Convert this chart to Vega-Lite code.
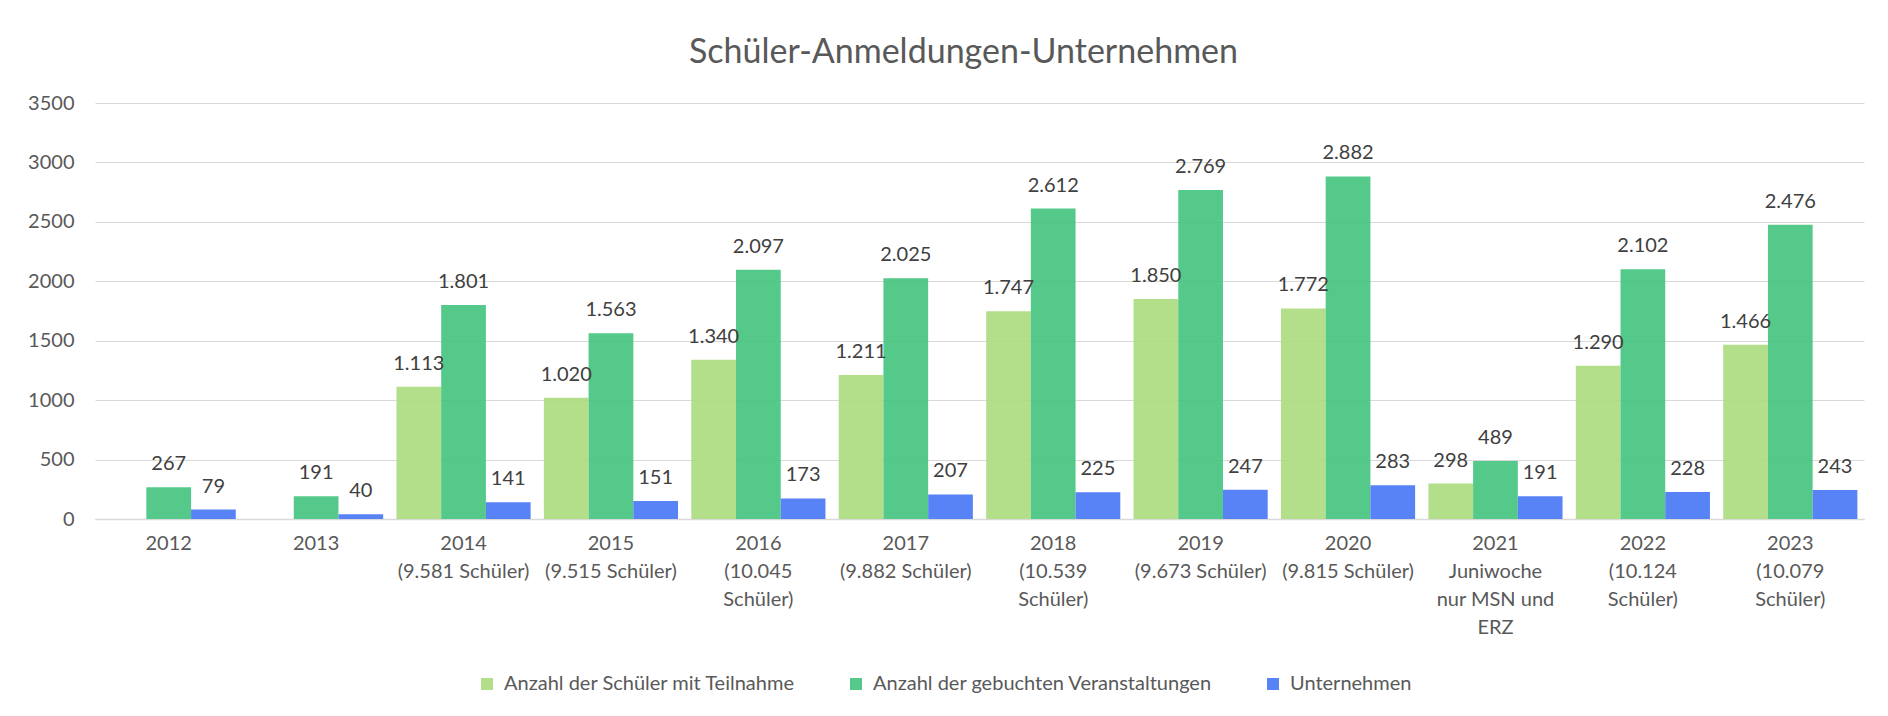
{
  "$schema": "https://vega.github.io/schema/vega-lite/v6.json",
  "width": 1769,
  "height": 416,
  "autosize": {"type": "none"},
  "padding": {"left": 95, "top": 103, "right": 24, "bottom": 197},
  "background": "white",
  "title": {
    "text": "Schüler-Anmeldungen-Unternehmen",
    "font": "Lato",
    "fontSize": 34,
    "fontWeight": "normal",
    "color": "#595959",
    "anchor": "middle",
    "frame": "group",
    "offset": 23,
    "dx": -16
  },
  "config": {
    "locale": {"number": {"decimal": ",", "thousands": ".", "grouping": [3], "currency": ["", " €"]}},
    "view": {"stroke": null},
    "font": "Lato"
  },
  "data": {
    "values": [
      {"jahr": "2012", "serie": "Anzahl der gebuchten Veranstaltungen", "wert": 267},
      {"jahr": "2012", "serie": "Unternehmen", "wert": 79},
      {"jahr": "2013", "serie": "Anzahl der gebuchten Veranstaltungen", "wert": 191},
      {"jahr": "2013", "serie": "Unternehmen", "wert": 40},
      {"jahr": "2014|(9.581 Schüler)", "serie": "Anzahl der Schüler mit Teilnahme", "wert": 1113},
      {"jahr": "2014|(9.581 Schüler)", "serie": "Anzahl der gebuchten Veranstaltungen", "wert": 1801},
      {"jahr": "2014|(9.581 Schüler)", "serie": "Unternehmen", "wert": 141},
      {"jahr": "2015|(9.515 Schüler)", "serie": "Anzahl der Schüler mit Teilnahme", "wert": 1020},
      {"jahr": "2015|(9.515 Schüler)", "serie": "Anzahl der gebuchten Veranstaltungen", "wert": 1563},
      {"jahr": "2015|(9.515 Schüler)", "serie": "Unternehmen", "wert": 151},
      {"jahr": "2016|(10.045|Schüler)", "serie": "Anzahl der Schüler mit Teilnahme", "wert": 1340},
      {"jahr": "2016|(10.045|Schüler)", "serie": "Anzahl der gebuchten Veranstaltungen", "wert": 2097},
      {"jahr": "2016|(10.045|Schüler)", "serie": "Unternehmen", "wert": 173},
      {"jahr": "2017|(9.882 Schüler)", "serie": "Anzahl der Schüler mit Teilnahme", "wert": 1211},
      {"jahr": "2017|(9.882 Schüler)", "serie": "Anzahl der gebuchten Veranstaltungen", "wert": 2025},
      {"jahr": "2017|(9.882 Schüler)", "serie": "Unternehmen", "wert": 207},
      {"jahr": "2018|(10.539|Schüler)", "serie": "Anzahl der Schüler mit Teilnahme", "wert": 1747},
      {"jahr": "2018|(10.539|Schüler)", "serie": "Anzahl der gebuchten Veranstaltungen", "wert": 2612},
      {"jahr": "2018|(10.539|Schüler)", "serie": "Unternehmen", "wert": 225},
      {"jahr": "2019|(9.673 Schüler)", "serie": "Anzahl der Schüler mit Teilnahme", "wert": 1850},
      {"jahr": "2019|(9.673 Schüler)", "serie": "Anzahl der gebuchten Veranstaltungen", "wert": 2769},
      {"jahr": "2019|(9.673 Schüler)", "serie": "Unternehmen", "wert": 247},
      {"jahr": "2020|(9.815 Schüler)", "serie": "Anzahl der Schüler mit Teilnahme", "wert": 1772},
      {"jahr": "2020|(9.815 Schüler)", "serie": "Anzahl der gebuchten Veranstaltungen", "wert": 2882},
      {"jahr": "2020|(9.815 Schüler)", "serie": "Unternehmen", "wert": 283},
      {"jahr": "2021|Juniwoche|nur MSN und|ERZ", "serie": "Anzahl der Schüler mit Teilnahme", "wert": 298},
      {"jahr": "2021|Juniwoche|nur MSN und|ERZ", "serie": "Anzahl der gebuchten Veranstaltungen", "wert": 489},
      {"jahr": "2021|Juniwoche|nur MSN und|ERZ", "serie": "Unternehmen", "wert": 191},
      {"jahr": "2022|(10.124|Schüler)", "serie": "Anzahl der Schüler mit Teilnahme", "wert": 1290},
      {"jahr": "2022|(10.124|Schüler)", "serie": "Anzahl der gebuchten Veranstaltungen", "wert": 2102},
      {"jahr": "2022|(10.124|Schüler)", "serie": "Unternehmen", "wert": 228},
      {"jahr": "2023|(10.079|Schüler)", "serie": "Anzahl der Schüler mit Teilnahme", "wert": 1466},
      {"jahr": "2023|(10.079|Schüler)", "serie": "Anzahl der gebuchten Veranstaltungen", "wert": 2476},
      {"jahr": "2023|(10.079|Schüler)", "serie": "Unternehmen", "wert": 243}
    ]
  },
  "encoding": {
    "x": {
      "field": "jahr",
      "type": "nominal",
      "sort": null,
      "scale": {"paddingInner": 0.09, "paddingOuter": 0.045},
      "axis": {
        "title": null,
        "labelExpr": "split(datum.label, '|')",
        "labelAngle": 0,
        "labelFont": "Lato",
        "labelFontSize": 20,
        "labelColor": "#595959",
        "labelLineHeight": 28,
        "labelBaseline": "top",
        "labelPadding": 14,
        "labelLimit": 300,
        "ticks": false,
        "domainColor": "#D9D9D9",
        "domainWidth": 1.5,
        "grid": false
      }
    },
    "xOffset": {
      "field": "serie",
      "type": "nominal",
      "sort": ["Anzahl der Schüler mit Teilnahme", "Anzahl der gebuchten Veranstaltungen", "Unternehmen"]
    },
    "y": {
      "field": "wert",
      "type": "quantitative",
      "scale": {"domain": [0, 3500], "nice": false},
      "axis": {
        "title": null,
        "values": [0, 500, 1000, 1500, 2000, 2500, 3000, 3500],
        "format": "d",
        "labelFont": "Lato",
        "labelFontSize": 20,
        "labelColor": "#595959",
        "labelPadding": 21,
        "ticks": false,
        "domain": false,
        "gridColor": "#D9D9D9",
        "gridWidth": 1.2
      }
    }
  },
  "layer": [
    {
      "mark": {"type": "bar", "opacity": 0.92},
      "encoding": {
        "color": {
          "field": "serie",
          "type": "nominal",
          "sort": ["Anzahl der Schüler mit Teilnahme", "Anzahl der gebuchten Veranstaltungen", "Unternehmen"],
          "scale": {
            "domain": ["Anzahl der Schüler mit Teilnahme", "Anzahl der gebuchten Veranstaltungen", "Unternehmen"],
            "range": ["#ADDC81", "#45C480", "#4A78F6"]
          },
          "legend": {
            "title": null,
            "orient": "none",
            "direction": "horizontal",
            "legendX": 382,
            "legendY": 571,
            "symbolType": "square",
            "symbolSize": 144,
            "symbolStrokeWidth": 0,
            "symbolOpacity": 0.92,
            "labelFont": "Lato",
            "labelFontSize": 20,
            "labelColor": "#595959",
            "labelOffset": 7,
            "labelLimit": 500,
            "columnPadding": 50
          }
        }
      }
    },
    {
      "mark": {
        "type": "text",
        "baseline": "alphabetic",
        "align": "center",
        "dy": -17,
        "font": "Lato",
        "fontSize": 20,
        "color": "#404040"
      },
      "encoding": {
        "text": {"field": "wert", "type": "quantitative", "format": ",d"}
      }
    }
  ]
}
